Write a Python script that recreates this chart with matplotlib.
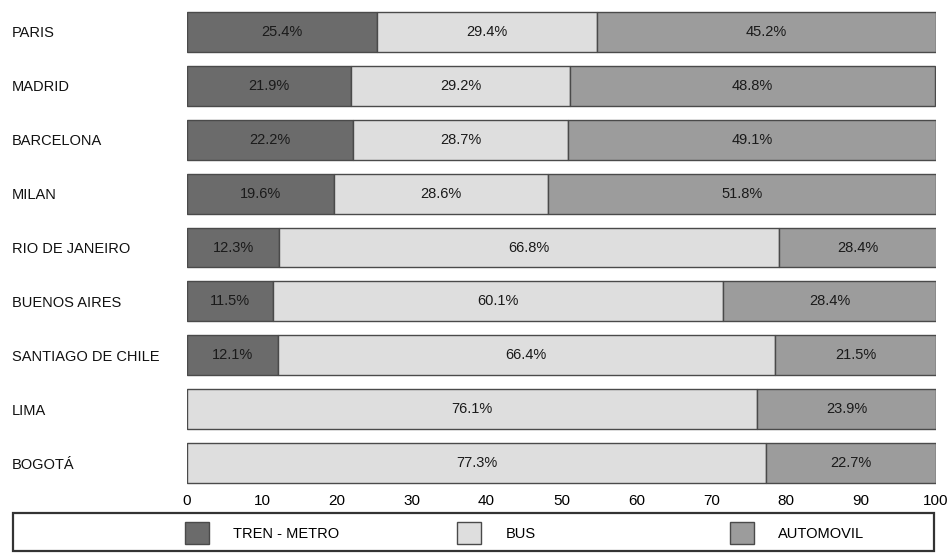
import numpy as np
import matplotlib
matplotlib.use("Agg")
import matplotlib.pyplot as plt
from matplotlib.patches import Rectangle, Patch

plt.rcParams['font.family'] = ['Liberation Sans', 'DejaVu Sans']

# modal split per city (% of trips)
cities = ["PARIS", "MADRID", "BARCELONA", "MILAN", "RIO DE JANEIRO",
          "BUENOS AIRES", "SANTIAGO DE CHILE", "LIMA", "BOGOTÁ"]
tren_metro = [25.4, 21.9, 22.2, 19.6, 12.3, 11.5, 12.1, 0.0, 0.0]
bus = [29.4, 29.2, 28.7, 28.6, 66.8, 60.1, 66.4, 76.1, 77.3]
automovil = [45.2, 48.8, 49.1, 51.8, 28.4, 28.4, 21.5, 23.9, 22.7]

series = [("TREN - METRO", tren_metro, "#6b6b6b"),
          ("BUS", bus, "#dedede"),
          ("AUTOMOVIL", automovil, "#9c9c9c")]

fig = plt.figure(figsize=(9.51, 5.53), dpi=100)
ax = fig.add_axes([187 / 951, 1 - 490 / 553, 749 / 951, 485 / 553])

y = np.arange(len(cities))
left = np.zeros(len(cities))
for name, vals, col in series:
    vals = np.array(vals)
    ax.barh(y, vals, left=left, height=0.74, color=col,
            edgecolor="#4a4a4a", linewidth=1.0)
    for i, v in enumerate(vals):
        if v <= 0:
            continue
        # centre the label on the visible part of the segment
        a = max(left[i], 0)
        b = min(left[i] + v, 100)
        ax.text((a + b) / 2, y[i], f"{v:.1f}%", ha="center", va="center",
                fontsize=10.5, color="#1a1a1a")
    left += vals

ax.set_xlim(0, 100)
ax.set_ylim(len(cities) - 0.5, -0.5)
ax.set_xticks(np.arange(0, 101, 10))
ax.set_yticks(y)
ax.set_yticklabels(cities, fontsize=10.5, color="#111111")
for lab in ax.get_yticklabels():
    lab.set_horizontalalignment("left")
# pad in points: labels start near the left edge of the figure
ax.tick_params(axis="y", length=0, pad=(187 - 12) * 0.72)
ax.tick_params(axis="x", length=0, pad=3, labelsize=11)
for s in ax.spines.values():
    s.set_visible(False)

# legend frame along the bottom
fig.patches.append(Rectangle((13 / 951, 2 / 553), 921 / 951, 38 / 553,
                             transform=fig.transFigure, fill=False,
                             edgecolor="#333333", linewidth=1.6))

legend_x = [178, 450, 723]
for (name, vals, col), lx in zip(series, legend_x):
    h = Patch(facecolor=col, edgecolor="#4a4a4a", linewidth=1.0)
    fig.legend([h], [name], loc="center left",
               bbox_to_anchor=(lx / 951, 20 / 553), frameon=False,
               borderpad=0, handlelength=1.6, handleheight=1.85,
               handletextpad=1.7, fontsize=10.5)

fig.savefig("out.png", dpi=100)
